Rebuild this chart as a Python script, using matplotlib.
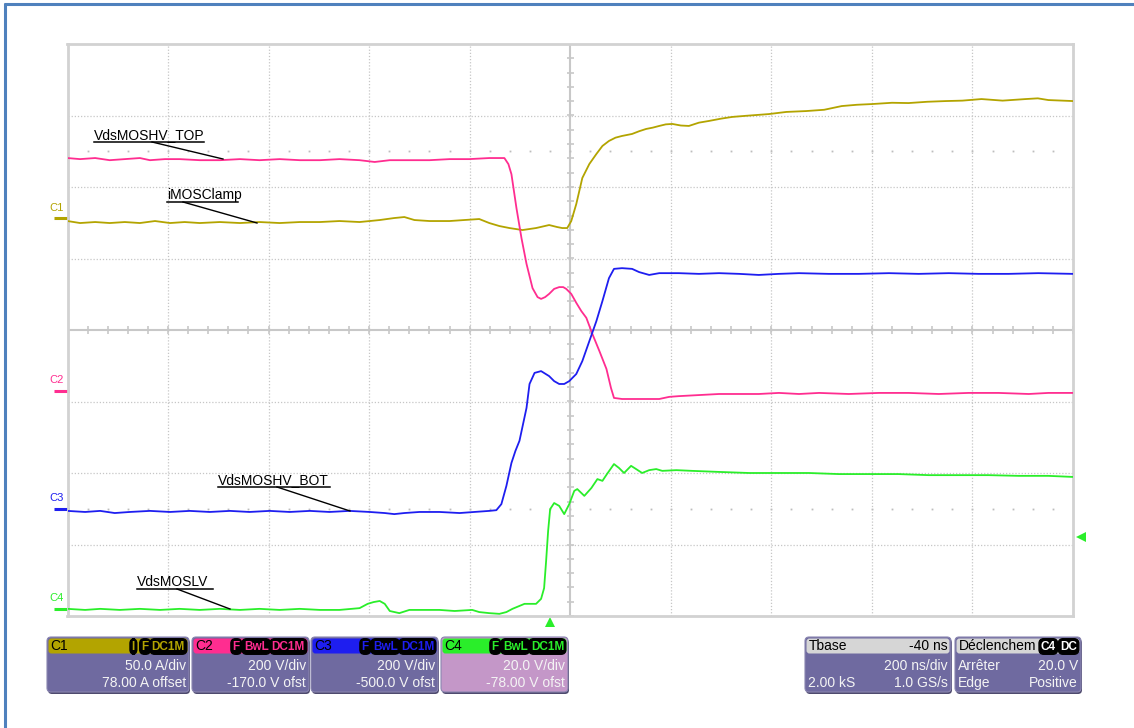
import numpy as np
import matplotlib.pyplot as plt
from matplotlib.patches import FancyBboxPatch

plt.rcParams['font.family'] = ['Liberation Sans', 'DejaVu Sans']

# scope setup
chan_names = ['C1', 'C2', 'C3', 'C4']
chan_scale = [50.0, 200.0, 200.0, 20.0]        # unit/div
chan_offset = [78.0, -170.0, -500.0, -78.0]    # offset in unit
chan_color = ['#b3a400', '#ff2d90', '#1e1ef0', '#2aee2a']
t_per_div = 200.0    # ns/div
t_center = 40.0      # ns at screen centre (Tbase -40 ns)
trig_level = 20.0    # V on C4

# C1 iMOSClamp, (ns, A)
c1 = [(-960, -1.8), (-935, -3.2), (-905, -2.5), (-876, -3.2), (-846, -2.5), (-816, -3.2),
      (-786, -1.8), (-756, -3.2), (-727, -2.5), (-697, -3.2), (-657, -2.5), (-617, -3.2),
      (-578, -2.5), (-538, -3.2), (-498, -2.5), (-458, -2.5), (-419, -1.8), (-379, -2.5),
      (-339, -1.1), (-310, 0.3), (-290, 1.0), (-270, -1.1), (-240, -1.8), (-200, -1.8),
      (-171, -1.1), (-141, -0.4), (-121, -3.2), (-101, -5.3), (-81, -6.7), (-55, -8.1),
      (-28, -6.7), (-2, -4.6), (14, -6.0), (24, -6.7), (34, -6.7), (42, -1.8), (52, 10.1),
      (58, 19.2), (64, 28.3), (78, 38.1), (92, 45.1), (104, 50.7), (117, 54.2), (130, 56.5),
      (143, 57.7), (163, 59.1), (177, 61.0), (191, 62.6), (204, 63.5), (217, 64.7),
      (230, 65.8), (243, 66.1), (260, 65.0), (276, 64.7), (296, 67.0), (316, 68.2),
      (340, 69.8), (362, 71.0), (390, 71.8), (435, 73.0), (470, 74.5), (509, 75.1),
      (545, 76.0), (580, 78.6), (610, 79.5), (640, 80.0), (680, 80.9), (713, 80.7),
      (750, 81.6), (787, 82.1), (820, 82.4), (858, 83.5), (900, 82.4), (946, 83.5),
      (970, 84.0), (991, 82.8), (1040, 82.1)]

# C2 VdsMOSHV_TOP, (ns, V)
c2 = [(-960, 651), (-935, 648), (-905, 651), (-876, 645), (-846, 648), (-816, 651),
      (-796, 645), (-766, 648), (-737, 648), (-697, 645), (-657, 645), (-617, 648),
      (-578, 645), (-538, 648), (-498, 645), (-458, 645), (-419, 648), (-379, 645),
      (-349, 640), (-319, 645), (-280, 645), (-240, 645), (-200, 648), (-161, 648),
      (-121, 651), (-101, 651), (-91, 651), (-83, 634), (-77, 606), (-67, 511), (-57, 427),
      (-47, 355), (-35, 287), (-25, 262), (-18, 257), (-10, 262), (-2, 271), (8, 285),
      (18, 290), (26, 290), (32, 285), (42, 271), (52, 246), (62, 223), (72, 204),
      (84, 159), (98, 111), (112, 61), (121, 8), (127, -20), (143, -23), (177, -23),
      (217, -23), (237, -17), (256, -15), (296, -12), (336, -9), (376, -9), (415, -9),
      (455, -6), (495, -9), (535, -6), (594, -9), (654, -6), (713, -6), (773, -9),
      (832, -6), (892, -6), (952, -9), (991, -6), (1040, -6)]

# C3 VdsMOSHV_BOT, (ns, V)
c3 = [(-960, -6), (-925, -9), (-895, -6), (-866, -12), (-836, -9), (-796, -6), (-756, -9),
      (-717, -6), (-677, -9), (-637, -6), (-598, -9), (-558, -6), (-518, -9), (-478, -6),
      (-439, -9), (-399, -6), (-359, -9), (-329, -12), (-310, -15), (-290, -12),
      (-260, -9), (-220, -9), (-180, -12), (-151, -9), (-121, -6), (-107, -4), (-97, 13),
      (-87, 64), (-77, 128), (-69, 162), (-61, 190), (-47, 282), (-41, 349), (-31, 380),
      (-18, 385), (-2, 371), (8, 357), (18, 349), (28, 349), (38, 357), (52, 377),
      (64, 413), (78, 469), (92, 525), (104, 581), (117, 645), (127, 671), (143, 673),
      (163, 671), (177, 662), (197, 654), (217, 659), (256, 659), (296, 657), (336, 659),
      (376, 657), (415, 654), (455, 657), (495, 659), (554, 657), (614, 657), (674, 659),
      (733, 657), (793, 659), (852, 657), (912, 657), (971, 659), (1040, 657)]

# C4 VdsMOSLV, (ns, V)
c4 = [(-960, 0.0), (-925, -0.3), (-895, 0.0), (-856, -0.3), (-816, 0.0), (-776, -0.3),
      (-737, 0.0), (-697, -0.3), (-657, 0.0), (-617, -0.3), (-578, 0.0), (-538, -0.3),
      (-498, 0.0), (-458, -0.3), (-419, -0.3), (-379, 0.2), (-363, 1.4), (-351, 1.9),
      (-339, 2.2), (-329, 1.4), (-319, -0.6), (-300, -1.2), (-280, -0.3), (-250, -0.3),
      (-220, -0.3), (-190, -0.6), (-155, -0.3), (-141, -0.9), (-121, -1.2), (-101, -1.4),
      (-87, -0.9), (-75, 0.0), (-51, 1.4), (-28, 1.4), (-18, 2.8), (-12, 5.8), (-8, 13.4),
      (-4, 21.8), (0, 27.9), (8, 29.6), (18, 28.8), (28, 26.5), (38, 29.3), (48, 33.0),
      (54, 33.5), (68, 31.6), (82, 33.8), (94, 36.3), (104, 35.8), (113, 37.7), (127, 40.5),
      (137, 39.4), (147, 38.0), (161, 40.0), (171, 39.1), (183, 38.0), (197, 38.8),
      (211, 39.1), (223, 38.6), (251, 38.8), (282, 38.6), (336, 38.3), (396, 38.0),
      (455, 38.0), (515, 38.0), (574, 37.7), (634, 37.7), (693, 37.7), (753, 37.4),
      (813, 37.4), (872, 37.4), (932, 37.2), (991, 37.2), (1040, 36.9)]

traces = [c1, c2, c3, c4]

W, H = 1134, 728
fig = plt.figure(figsize=(W / 100, H / 100), dpi=100)
fig.patch.set_facecolor('white')

# graticule area in pixels: x 67.5..1073, y 44..616
ax = fig.add_axes([67.5 / W, 1 - 616 / H, (1073 - 67.5) / W, (616 - 44) / H])
ax.set_xlim(-5, 5)
ax.set_ylim(-4, 4)
ax.set_xticks([])
ax.set_yticks([])
for s in ax.spines.values():
    s.set_color('#d2d2d2')
    s.set_linewidth(2)

grid_c = '#c6c6c6'
for x in range(-4, 5):
    if x != 0:
        ax.axvline(x, color=grid_c, lw=0.9, ls=(0, (1, 1.5)), zorder=1)
for y in range(-3, 4):
    if y != 0:
        ax.axhline(y, color=grid_c, lw=0.9, ls=(0, (1, 1.5)), zorder=1)
ax.axhline(0, color='#c8c8c8', lw=1.5, zorder=1)
ax.axvline(0, color='#c8c8c8', lw=1.5, zorder=1)
ax.vlines(np.arange(-5, 5.01, 0.2), -0.055, 0.055, color='#c8c8c8', lw=1.2, zorder=1)
ax.hlines(np.arange(-4, 4.01, 0.2), -0.035, 0.035, color='#c8c8c8', lw=1.2, zorder=1)
xd = np.arange(-4.8, 5, 0.2)
for yd in (2.5, -2.5):
    ax.plot(xd, np.full_like(xd, yd), ls='none', marker='s', ms=1.3, mew=0,
            color='#bdbdbd', zorder=1)

for name, sc, off, col, tr in zip(chan_names, chan_scale, chan_offset, chan_color, traces):
    arr = np.array(tr, dtype=float)
    xs = (arr[:, 0] - t_center) / t_per_div
    ys = (arr[:, 1] + off) / sc
    ax.plot(xs, ys, color=col, lw=1.3, zorder=3)
    # ground marker on the left edge
    y0 = off / sc
    ax.plot([-5.13, -4.99], [y0, y0], color=col, lw=2.2, clip_on=False, solid_capstyle='butt')
    ax.text(-5.18, y0 + 0.08, name, color=col, fontsize=8, ha='left', va='bottom')

# trigger markers
i4 = chan_names.index('C4')
ax.plot(5.075, (trig_level + chan_offset[i4]) / chan_scale[i4], marker='<', ms=7,
        color=chan_color[3], clip_on=False, mew=0)
ax.plot((0 - t_center) / t_per_div, -4.085, marker='^', ms=7, color=chan_color[3],
        clip_on=False, mew=0)

# overlay in pixel coordinates for labels and info boxes
ov = fig.add_axes([0, 0, 1, 1], zorder=5)
ov.set_xlim(0, W)
ov.set_ylim(H, 0)
ov.axis('off')

ov.plot([5, 5], [3, H], color='#4f81bd', lw=2.2, solid_capstyle='butt')
ov.plot([4, W], [4, 4], color='#4f81bd', lw=2.2, solid_capstyle='butt')


def trace_label(text, x0, x1, yl, lx, tip):
    ov.text(x0, yl - 2.5, text, fontsize=10, ha='left', va='baseline', color='black')
    ov.plot([x0, x1], [yl, yl], color='black', lw=1.1)
    ov.plot([lx, tip[0]], [yl, tip[1]], color='black', lw=1.0)


trace_label('VdsMOSHV_TOP', 94, 204, 142, 152, (223, 159))
trace_label('iMOSClamp', 167, 238, 202, 183, (257, 223))
trace_label('VdsMOSHV_BOT', 218, 330, 487, 277, (350, 511))
trace_label('VdsMOSLV', 137, 213, 589, 177, (230, 609))

body_c = '#6f6aa0'
by0, by1 = 637, 692
fs_body = 10


def info_box(x0, x1, head_fc, body_fc, head_txt, head_col='black'):
    ov.add_patch(FancyBboxPatch((x0 + 1, by0 + 2), x1 - x0, by1 - by0,
                                boxstyle='round,pad=0,rounding_size=4', fc='#4e4a6e', ec='none'))
    ov.add_patch(FancyBboxPatch((x0, by0), x1 - x0, by1 - by0,
                                boxstyle='round,pad=0,rounding_size=4', fc=body_fc,
                                ec='#8a86b0', lw=0.8))
    ov.add_patch(FancyBboxPatch((x0 + 1.5, by0 + 1.5), x1 - x0 - 3, 15,
                                boxstyle='round,pad=0,rounding_size=3', fc=head_fc, ec='none'))
    ov.text(x0 + 3.5, by0 + 9.5, head_txt, fontsize=fs_body, color=head_col, ha='left', va='center')


def badges(x_right, names, col):
    x = x_right
    for b in reversed(names):
        ov.text(x, by0 + 9.5, b, fontsize=8.5, fontweight='bold', color=col,
                ha='right', va='center',
                bbox=dict(boxstyle='round,pad=0.15,rounding_size=0.4', fc='black', ec='black'))
        x -= 7.6 * len(b) + 6


def body(x0, x1, l1, l2, left1='', left2='', col='#f4f4f4'):
    ov.text(x1 - 3, 666, l1, fontsize=fs_body, color=col, ha='right', va='center')
    ov.text(x1 - 3, 683, l2, fontsize=fs_body, color=col, ha='right', va='center')
    if left1:
        ov.text(x0 + 3, 666, left1, fontsize=fs_body, color=col, ha='left', va='center')
    if left2:
        ov.text(x0 + 3, 683, left2, fontsize=fs_body, color=col, ha='left', va='center')


boxes = [(47, 189), (192, 309), (311, 438), (441, 568)]
head_badges = [['I', 'F', 'DC1M'], ['F', 'BwL', 'DC1M'], ['F', 'BwL', 'DC1M'], ['F', 'BwL', 'DC1M']]
ofs_txt = ['78.00 A offset', '-170.0 V ofst', '-500.0 V ofst', '-78.00 V ofst']
div_txt = ['50.0 A/div', '200 V/div', '200 V/div', '20.0 V/div']
for k, (x0, x1) in enumerate(boxes):
    fc = '#c497c8' if k == 3 else body_c
    info_box(x0, x1, chan_color[k], fc, chan_names[k])
    badges(x1 - 4, head_badges[k], chan_color[k])
    body(x0, x1, div_txt[k], ofs_txt[k])

info_box(805, 951, '#d6d6d6', body_c, 'Tbase')
ov.text(948, by0 + 9.5, '-40 ns', fontsize=fs_body, ha='right', va='center')
body(805, 951, '200 ns/div', '1.0 GS/s', left2='2.00 kS')

info_box(955, 1081, '#d6d6d6', body_c, 'Déclenchem')
badges(1077, ['C4', 'DC'], 'white')
body(955, 1081, '20.0 V', 'Positive', left1='Arrêter', left2='Edge')

fig.savefig('out.png', dpi=100)
